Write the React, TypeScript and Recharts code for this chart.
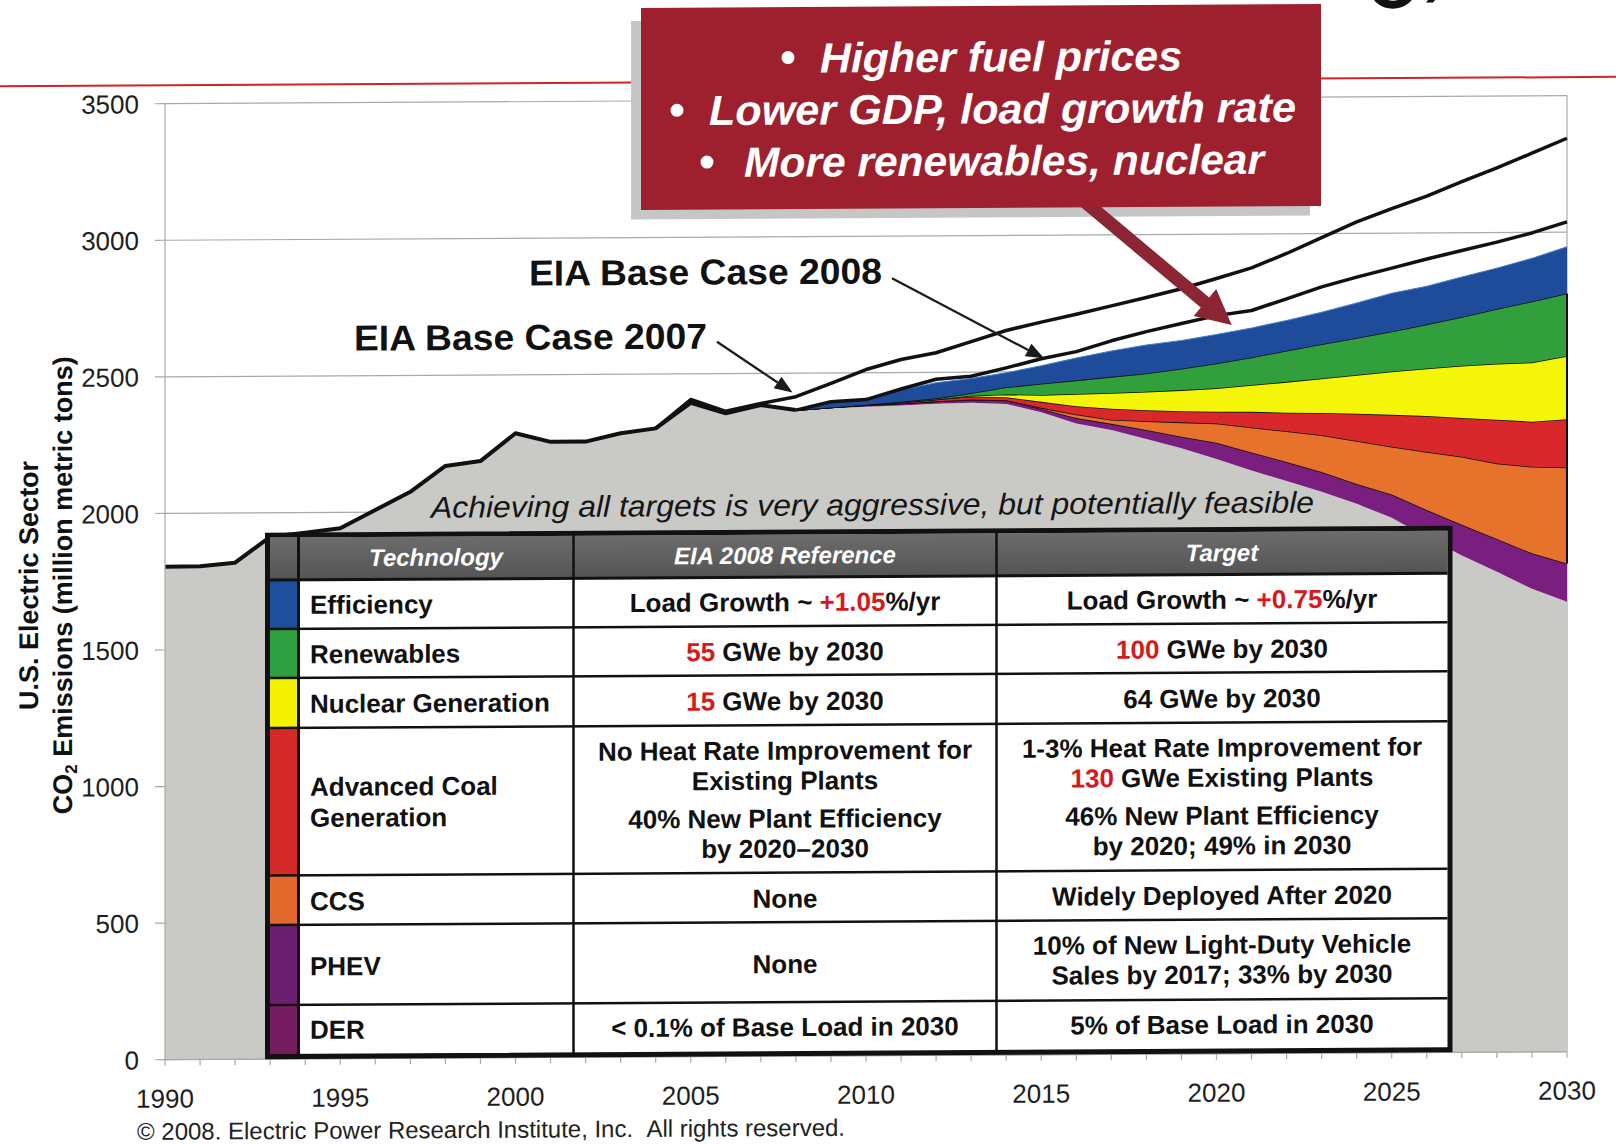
import React from 'react';
import { ComposedChart, Area, Line, XAxis, YAxis, CartesianGrid, ReferenceLine } from 'recharts';

const W = 1616;
const H = 1144;
const FONT = '"Liberation Sans", Arial, Helvetica, sans-serif';
const RED = '#d7191c';

// ---------------- data ----------------
const historyYears = [1990, 1991, 1992, 1993, 1994, 1995, 1996, 1997, 1998, 1999, 2000, 2001, 2002, 2003, 2004, 2005, 2006, 2007, 2008];
const historyEmissions = [1805, 1806, 1818, 1912, 1926, 1942, 2008, 2074, 2168, 2185, 2286, 2254, 2254, 2284, 2301, 2394, 2355, 2384, 2365];

const projectionYears = [2008, 2009, 2010, 2011, 2012, 2013, 2014, 2015, 2016, 2017, 2018, 2019, 2020, 2021, 2022, 2023, 2024, 2025, 2026, 2027, 2028, 2029, 2030];
const remainingEmissions = [2365, 2371, 2376, 2380, 2385, 2388, 2383, 2352, 2310, 2285, 2252, 2217, 2177, 2134, 2095, 2055, 2010, 1958, 1886, 1819, 1758, 1695, 1647];
const derPhevReduction = [0, 3, 5, 7, 9, 12, 13, 12, 20, 23, 33, 42, 60, 66, 70, 72, 73, 85, 100, 112, 120, 130, 140];
const ccsReduction = [0, 0, 0, 0, 0, 0, 1, 4, 13, 15, 32, 53, 70, 92, 112, 135, 157, 175, 212, 249, 277, 317, 352];
const advancedCoalReduction = [0, 0, 2, 4, 7, 11, 11, 22, 30, 40, 40, 41, 43, 57, 68, 81, 100, 117, 132, 142, 160, 165, 176];
const nuclearReduction = [0, 0, 0, 0, 0, 3, 10, 25, 45, 58, 68, 77, 86, 98, 113, 127, 142, 159, 174, 191, 205, 217, 232];
const renewablesReduction = [0, 0, 0, 2, 4, 9, 26, 41, 50, 59, 67, 78, 91, 101, 114, 125, 135, 146, 161, 179, 200, 223, 229];
const efficiencyReduction = [0, 18, 19, 43, 57, 54, 53, 66, 82, 95, 104, 104, 106, 108, 111, 117, 128, 140, 140, 146, 150, 158, 171];
const eia2008BaseCase = [2365, 2395, 2402, 2440, 2475, 2485, 2515, 2548, 2573, 2612, 2645, 2674, 2702, 2720, 2762, 2805, 2840, 2872, 2905, 2935, 2965, 2998, 3038];

const eia2007Years = [2004, 2005, 2006, 2007, 2008, 2009, 2010, 2011, 2012, 2013, 2014, 2015, 2016, 2017, 2018, 2019, 2020, 2021, 2022, 2023, 2024, 2025, 2026, 2027, 2028, 2029, 2030];
const eia2007BaseCase = [2301, 2406, 2362, 2390, 2414, 2462, 2512, 2548, 2572, 2612, 2652, 2682, 2710, 2740, 2770, 2801, 2838, 2876, 2928, 2985, 3042, 3090, 3135, 3187, 3237, 3290, 3344];

const yTicks = [0, 500, 1000, 1500, 2000, 2500, 3000, 3500];
const xLabelYears = [1990, 1995, 2000, 2005, 2010, 2015, 2020, 2025, 2030];
const xTickYears = Array.from({ length: 41 }, (_, i) => 1990 + i);

// table content
type Seg = [string, boolean?];
const techNames: string[][] = [['Efficiency'], ['Renewables'], ['Nuclear Generation'], ['Advanced Coal', 'Generation'], ['CCS'], ['PHEV'], ['DER']];
const techColors = ['#1d4f9d', '#2fa041', '#f5f200', '#d62a2a', '#e2692b', '#6c1f70', '#761d62'];
const eiaReference: Seg[][][] = [
  [[['Load Growth ~ '], ['+1.05', true], ['%/yr']]],
  [[['55', true], [' GWe by 2030']]],
  [[['15', true], [' GWe by 2030']]],
  [[['No Heat Rate Improvement for']], [['Existing Plants']], [['40% New Plant Efficiency']], [['by 2020\u20132030']]],
  [[['None']]],
  [[['None']]],
  [[['< 0.1% of Base Load in 2030']]],
];
const targets: Seg[][][] = [
  [[['Load Growth ~ '], ['+0.75', true], ['%/yr']]],
  [[['100', true], [' GWe by 2030']]],
  [[['64 GWe by 2030']]],
  [[['1-3% Heat Rate Improvement for']], [['130', true], [' GWe Existing Plants']], [['46% New Plant Efficiency']], [['by 2020; 49% in 2030']]],
  [[['Widely Deployed After 2020']]],
  [[['10% of New Light-Duty Vehicle']], [['Sales by 2017; 33% by 2030']]],
  [[['5% of Base Load in 2030']]],
];

const data = xTickYears.map((year) => {
  const row: any = { year };
  const h = historyYears.indexOf(year);
  const p = projectionYears.indexOf(year);
  if (h >= 0) row.history = historyEmissions[h];
  if (p >= 0) {
    row.gray = remainingEmissions[p];
    row.derPhev = derPhevReduction[p];
    row.ccs = ccsReduction[p];
    row.coal = advancedCoalReduction[p];
    row.nuclear = nuclearReduction[p];
    row.renewables = renewablesReduction[p];
    row.efficiency = efficiencyReduction[p];
    row.eia2008 = eia2008BaseCase[p];
  } else if (h >= 0) {
    row.gray = historyEmissions[h];
  }
  const e = eia2007Years.indexOf(year);
  if (e >= 0) row.eia2007 = eia2007BaseCase[e];
  return row;
});

const last = projectionYears.length - 1;
const edgeBottom = remainingEmissions[last] + derPhevReduction[last];
const edgeTop = edgeBottom + ccsReduction[last] + advancedCoalReduction[last] + nuclearReduction[last] + renewablesReduction[last];

// ---------------- ticks ----------------
const XTick = (p: any) => {
  const v = p.payload?.value;
  if (!xLabelYears.includes(v)) return <g />;
  return (
    <text x={p.x} y={p.y + 38} textAnchor="middle" fontSize={26} fontFamily={FONT} fill="#1e1e1e">
      {v}
    </text>
  );
};
const YTick = (p: any) => (
  <text x={p.x} y={p.y + 9.5} textAnchor="end" fontSize={26} fontFamily={FONT} fill="#1e1e1e">
    {p.payload?.value}
  </text>
);

// ---------------- overlay pieces ----------------
function Pointer({ x1, y1, x2, y2 }: { x1: number; y1: number; x2: number; y2: number }) {
  const dx = x2 - x1, dy = y2 - y1, L = Math.hypot(dx, dy), ux = dx / L, uy = dy / L;
  const hl = 18, hw = 7;
  const bx = x2 - ux * hl, by = y2 - uy * hl;
  return (
    <g>
      <line x1={x1} y1={y1} x2={bx} y2={by} stroke="#1a1a1a" strokeWidth={2.2} />
      <polygon points={`${x2},${y2} ${bx - uy * hw},${by + ux * hw} ${bx + uy * hw},${by - ux * hw}`} fill="#1a1a1a" />
    </g>
  );
}

function BigArrow() {
  const sx = 1072, sy = 192.5, tx = 1231.7, ty = 327.4;
  const dx = tx - sx, dy = ty - sy, L = Math.hypot(dx, dy), ux = dx / L, uy = dy / L;
  const nx = -uy, ny = ux;
  const sw = 6.5, hw = 17.5, hl = 35;
  const bx = tx - ux * hl, by = ty - uy * hl;
  const pts = [
    [sx + nx * sw, sy + ny * sw],
    [bx + nx * sw, by + ny * sw],
    [bx + nx * hw, by + ny * hw],
    [tx, ty],
    [bx - nx * hw, by - ny * hw],
    [bx - nx * sw, by - ny * sw],
    [sx - nx * sw, sy - ny * sw],
  ];
  return <polygon points={pts.map((q) => q.join(',')).join(' ')} fill="#8b2433" />;
}

function RichText({ x, y, segs, anchor = 'middle' }: { x: number; y: number; segs: Seg[]; anchor?: string }) {
  return (
    <text x={x} y={y} textAnchor={anchor as any} fontSize={26} fontWeight={700} fontFamily={FONT} fill="#111">
      {segs.map(([t, red], i) => (
        <tspan key={i} fill={red ? RED : '#111'}>{t}</tspan>
      ))}
    </text>
  );
}

function Table() {
  const L = 267.5, R = 1450, T = 532, B = 1053.5;
  const innerL = 270, innerR = 1447.5;
  const colX = [298.5, 573.5, 996.5];
  const rowY = [577, 626, 675, 725, 872.5, 922, 1002, 1051];
  const c1Base = [[611], [660.5], [710], [793, 824], [907.5], [972.5], [1036]];
  const c2Base = [[611], [660.5], [710], [759.5, 789.5, 827.5, 857.5], [907.5], [973], [1036]];
  const c3Base = [[611], [660.5], [710], [759, 789, 827, 857], [907], [956, 986], [1036]];
  const c2Mid = (colX[1] + colX[2]) / 2;
  const c3Mid = (colX[2] + innerR) / 2;
  return (
    <g>
      <defs>
        <linearGradient id="hdr" x1="0" y1="0" x2="0" y2="1">
          <stop offset="0" stopColor="#6c6c6c" />
          <stop offset="1" stopColor="#545454" />
        </linearGradient>
      </defs>
      <rect x={L} y={T} width={R - L} height={B - T} fill="#fff" />
      <rect x={innerL} y={T + 2.5} width={innerR - innerL} height={rowY[0] - T - 2.5} fill="url(#hdr)" />
      {techColors.map((c, i) => (
        <rect key={i} x={innerL} y={rowY[i]} width={colX[0] - innerL} height={rowY[i + 1] - rowY[i]} fill={c} />
      ))}
      {rowY.slice(0, 7).map((y, i) => (
        <line key={i} x1={innerL} x2={innerR} y1={y} y2={y} stroke="#111" strokeWidth={i === 0 ? 3 : 2.5} />
      ))}
      <line x1={colX[0]} x2={colX[0]} y1={T} y2={B} stroke="#111" strokeWidth={3} />
      <line x1={colX[1]} x2={colX[1]} y1={T} y2={B} stroke="#111" strokeWidth={2.5} />
      <line x1={colX[2]} x2={colX[2]} y1={T} y2={B} stroke="#111" strokeWidth={2.5} />
      <rect x={L} y={T} width={R - L} height={B - T} fill="none" stroke="#111" strokeWidth={5} />
      {/* header */}
      {[
        ['Technology', (colX[0] + colX[1]) / 2],
        ['EIA 2008 Reference', c2Mid],
        ['Target', c3Mid],
      ].map(([t, x], i) => (
        <text key={i} x={x as number} y={563.5} textAnchor="middle" fontSize={24} fontWeight={700} fontStyle="italic" fontFamily={FONT} fill="#fff">
          {t}
        </text>
      ))}
      {techNames.map((lines, r) =>
        lines.map((t, k) => (
          <text key={`t${r}-${k}`} x={310} y={c1Base[r][k]} fontSize={26} fontWeight={700} fontFamily={FONT} fill="#111">
            {t}
          </text>
        ))
      )}
      {eiaReference.map((lines, r) =>
        lines.map((segs, k) => <RichText key={`e${r}-${k}`} x={c2Mid} y={c2Base[r][k]} segs={segs} />)
      )}
      {targets.map((lines, r) =>
        lines.map((segs, k) => <RichText key={`g${r}-${k}`} x={c3Mid} y={c3Base[r][k]} segs={segs} />)
      )}
    </g>
  );
}

function Overlay() {
  const boxText = { fontSize: 42, fontWeight: 700, fontStyle: 'italic', fontFamily: FONT, fill: '#fff' } as const;
  return (
    <svg width={W} height={H} style={{ position: 'absolute', left: 0, top: 0, pointerEvents: 'none' }}>
      {/* top rule and logo fragment */}
      <line x1={0} x2={W} y1={81.5} y2={81.5} stroke="#d2232a" strokeWidth={2} />
      <ellipse cx={1393} cy={-6} rx={18} ry={14} fill="none" stroke="#111" strokeWidth={8} />
      <polygon points="1426,6 1433,6 1440,-2 1433,-2" fill="#111" />
      {/* callout box */}
      <rect x={631} y={20} width={679} height={198.5} fill="#c6c6c6" />
      <BigArrow />
      <rect x={641} y={7} width={680} height={202} fill="#9e1f2e" />
      <circle cx={788} cy={57.5} r={6.5} fill="#fff" />
      <text x={820} y={72.5} textLength={362} lengthAdjust="spacingAndGlyphs" {...boxText}>Higher fuel prices</text>
      <circle cx={677} cy={109.5} r={6.5} fill="#fff" />
      <text x={709} y={124.5} textLength={587} lengthAdjust="spacingAndGlyphs" {...boxText}>Lower GDP, load growth rate</text>
      <circle cx={707} cy={161.5} r={6.5} fill="#fff" />
      <text x={744} y={176.5} textLength={520} lengthAdjust="spacingAndGlyphs" {...boxText}>More renewables, nuclear</text>
      {/* series labels */}
      <text x={529} y={284} textLength={353} lengthAdjust="spacingAndGlyphs" fontSize={36} fontWeight={700} fontFamily={FONT} fill="#111">EIA Base Case 2008</text>
      <text x={354} y={348} textLength={353} lengthAdjust="spacingAndGlyphs" fontSize={36} fontWeight={700} fontFamily={FONT} fill="#111">EIA Base Case 2007</text>
      <Pointer x1={892} y1={278.8} x2={1044} y2={359.7} />
      <Pointer x1={717} y1={341.2} x2={792.5} y2={392.4} />
      <text x={431} y={515.5} textLength={883} lengthAdjust="spacingAndGlyphs" fontSize={30} fontStyle="italic" fontFamily={FONT} fill="#151515">
        Achieving all targets is very aggressive, but potentially feasible
      </text>
      <Table />
      {/* axis title */}
      <text transform="translate(38,581) rotate(-90)" textAnchor="middle" fontSize={27} fontWeight={700} fontFamily={FONT} fill="#111">
        U.S. Electric Sector
      </text>
      <text transform="translate(72,581) rotate(-90)" textAnchor="middle" fontSize={27} fontWeight={700} fontFamily={FONT} fill="#111">
        CO<tspan fontSize={17} dy={5}>2</tspan><tspan dy={-5}> Emissions (million metric tons)</tspan>
      </text>
      <text x={137} y={1136} textLength={708} lengthAdjust="spacingAndGlyphs" fontSize={24} fontFamily={FONT} fill="#222">
        {'\u00A9 2008. Electric Power Research Institute, Inc.\u00A0\u00A0All rights reserved.'}
      </text>
    </svg>
  );
}

export default function App() {
  return (
    <div style={{ position: 'absolute', left: 0, top: 0, width: W, height: H, background: '#fff', overflow: 'hidden' }}>
      <div style={{ position: 'absolute', left: 0, top: 0, width: W, height: H, transform: 'skewY(-0.33deg)', transformOrigin: '808px 572px' }}>
        <ComposedChart width={W} height={H} data={data} margin={{ top: 100, right: 49, bottom: 28, left: 0 }}>
          <CartesianGrid
            stroke="#a9a9a9"
            strokeWidth={1.2}
            vertical={true}
            verticalCoordinatesGenerator={(args: any) => {
              const o = args && args.offset;
              return o ? [o.left + o.width] : [W - 49];
            }}
          />
          <XAxis
            dataKey="year"
            type="number"
            domain={[1990, 2030]}
            ticks={xTickYears}
            interval={0}
            height={60}
            tickSize={6}
            tickMargin={4}
            axisLine={{ stroke: '#a9a9a9', strokeWidth: 1.2 }}
            tickLine={{ stroke: '#a9a9a9', strokeWidth: 1.2 }}
            tick={(p: any) => <XTick {...p} />}
          />
          <YAxis
            type="number"
            domain={[0, 3500]}
            ticks={yTicks}
            interval={0}
            width={165}
            tickSize={10}
            tickMargin={16}
            axisLine={{ stroke: '#a9a9a9', strokeWidth: 1.2 }}
            tickLine={{ stroke: '#a9a9a9', strokeWidth: 1.2 }}
            tick={(p: any) => <YTick {...p} />}
          />
          <Area type="linear" dataKey="gray" stackId="w" fill="#c9c9c6" fillOpacity={1} stroke="none" isAnimationActive={false} activeDot={false} />
          <Area type="linear" dataKey="derPhev" stackId="w" fill="#7a1f80" fillOpacity={1} stroke="#111" strokeWidth={1.6} isAnimationActive={false} activeDot={false} />
          <Area type="linear" dataKey="ccs" stackId="w" fill="#e7722b" fillOpacity={1} stroke="#111" strokeWidth={1.6} isAnimationActive={false} activeDot={false} />
          <Area type="linear" dataKey="coal" stackId="w" fill="#d8282c" fillOpacity={1} stroke="#111" strokeWidth={1.6} isAnimationActive={false} activeDot={false} />
          <Area type="linear" dataKey="nuclear" stackId="w" fill="#f5f50a" fillOpacity={1} stroke="#111" strokeWidth={1.6} isAnimationActive={false} activeDot={false} />
          <Area type="linear" dataKey="renewables" stackId="w" fill="#31a03c" fillOpacity={1} stroke="#111" strokeWidth={1.6} isAnimationActive={false} activeDot={false} />
          <Area type="linear" dataKey="efficiency" stackId="w" fill="#1f4c9a" fillOpacity={1} stroke="#3f7fcf" strokeWidth={1} isAnimationActive={false} activeDot={false} />
          <ReferenceLine segment={[{ x: 2030, y: edgeBottom }, { x: 2030, y: edgeTop }]} stroke="#111" strokeWidth={2} />
          <Line type="linear" dataKey="eia2007" stroke="#111" strokeWidth={3.5} dot={false} activeDot={false} isAnimationActive={false} strokeLinejoin="round" />
          <Line type="linear" dataKey="history" stroke="#111" strokeWidth={4} dot={false} activeDot={false} isAnimationActive={false} strokeLinejoin="round" />
          <Line type="linear" dataKey="eia2008" stroke="#111" strokeWidth={3.5} dot={false} activeDot={false} isAnimationActive={false} strokeLinejoin="round" />
        </ComposedChart>
        <Overlay />
      </div>
    </div>
  );
}
